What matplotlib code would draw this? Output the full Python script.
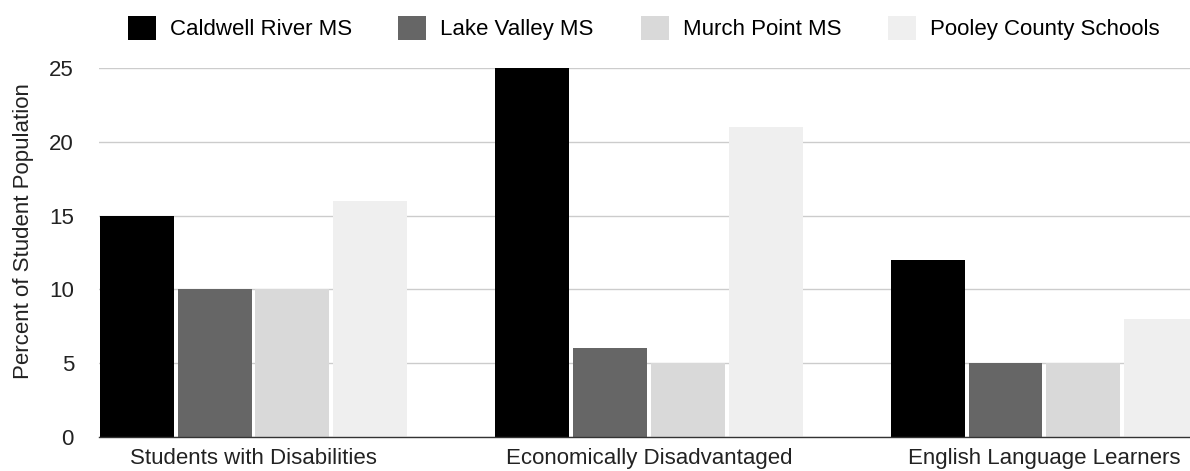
import matplotlib
matplotlib.use("Agg")
import matplotlib.pyplot as plt
import numpy as np

plt.rcParams['font.family'] = ['Liberation Sans', 'DejaVu Sans']

categories = ["Students with Disabilities", "Economically Disadvantaged", "English Language Learners"]
series_names = ["Caldwell River MS", "Lake Valley MS", "Murch Point MS", "Pooley County Schools"]
caldwell = [15, 25, 12]
lake_valley = [10, 6, 5]
murch_point = [10, 5, 5]
pooley = [16, 21, 8]
yticks = [0, 5, 10, 15, 20, 25]

series = [caldwell, lake_valley, murch_point, pooley]
colors = ["#000000", "#666666", "#d9d9d9", "#efefef"]

W, H = 1190, 471
FS = 16
fig = plt.figure(figsize=(W / 100, H / 100), dpi=100)
ax = fig.add_axes([99 / W, (H - 437) / H, (W - 99) / W, (437 - 68) / H])

x = np.arange(len(categories))
step = 0.197
width = 0.187
handles = []
for i, (vals, c) in enumerate(zip(series, colors)):
    b = ax.bar(x + (i - 1.5) * step, vals, width=width, color=c, zorder=3,
               label=series_names[i])
    handles.append(b)

ax.set_xlim(-0.3907, 2.368)
ax.set_ylim(0, 25)
ax.set_yticks(yticks)
ax.set_xticks(x)
ax.set_xticklabels(categories, fontsize=FS, color="#222222")
ax.tick_params(axis='y', labelsize=FS, length=0, pad=18, colors="#222222")
ax.tick_params(axis='x', length=0, pad=8)
ax.grid(axis='y', color="#cccccc", linewidth=1, zorder=0)
for s in ["top", "right", "left"]:
    ax.spines[s].set_visible(False)
ax.spines["bottom"].set_color("#333333")
ax.spines["bottom"].set_linewidth(1)
ax.spines["bottom"].set_zorder(4)

ax.set_ylabel("Percent of Student Population", fontsize=FS, color="#222222")
ax.yaxis.set_label_coords((34 - 99) / (W - 99), (437 - 231) / (437 - 68))

fig.legend(handles=handles, labels=series_names, loc="center", ncol=4,
           bbox_to_anchor=(643.5 / W, (H - 28) / H), frameon=False, fontsize=FS,
           handlelength=1.26, handleheight=1.26, handletextpad=0.63,
           columnspacing=2.1, borderpad=0, borderaxespad=0)

fig.savefig("out.png", dpi=100)
